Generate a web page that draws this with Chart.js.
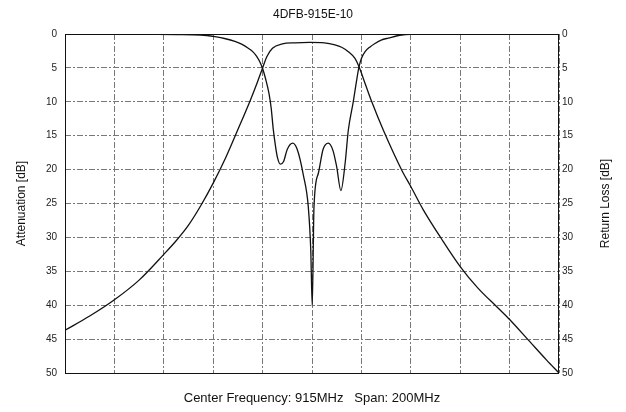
<!DOCTYPE html>
<html>
<head>
<meta charset="utf-8">
<script src="https://cdn.jsdelivr.net/npm/chart.js@4.4.1/dist/chart.umd.min.js"></script>
<style>
  body { margin: 0; background: #fff; }
  #wrap { width: 626px; height: 412px; }
</style>
</head>
<body>
<div id="wrap"><canvas id="filterChart" width="626" height="412"></canvas></div>
<script>
// frequency span 815..1015 MHz, 20 MHz per division
const freqTicks = [815, 835, 855, 875, 895, 915, 935, 955, 975, 995, 1015];
const dbTicks = [0, 5, 10, 15, 20, 25, 30, 35, 40, 45, 50];

// attenuation (insertion loss) curve
const attFreq = [815, 825, 835, 845, 855, 860, 865, 870, 875, 880, 885, 890, 893, 895,
  896.7, 899, 903, 908, 914, 920, 924.3, 927, 929.7, 932.4, 934, 936.5, 939.2, 943.9, 951.5,
  955, 960, 967.4, 975, 982, 990, 995, 1003, 1010, 1015];
const attDb = [43.7, 41.6, 39.2, 36.3, 32.5, 30.5, 28.2, 25.3, 22.0, 18.3, 14.1, 9.8, 7.0, 5.0,
  3.35, 2.1, 1.47, 1.3, 1.23, 1.3, 1.6, 1.95, 2.6, 3.6, 4.8, 7.3, 10, 14.2, 20.2,
  22.5, 25.9, 30.2, 34.3, 37.4, 40.3, 42.1, 45.3, 48.1, 50];

// return loss curve
const rlFreq = [815, 845, 860, 870, 875.7, 880, 883.8, 886.5, 889.2, 891, 892.6, 894, 895,
  896.2, 897.6, 898.5, 899.3, 900.2, 901, 902.2, 903.5, 905, 907.2, 909, 911.5, 913.5, 914.5,
  915.1, 915.8, 917.6, 919.5, 921.6, 923.5, 925, 926.7, 928.4, 929.7, 931.7, 933, 934, 935,
  936.5, 938.5, 940.5, 943, 945.9, 951.3, 960, 1015];
const rlDb = [0, 0.03, 0.08, 0.15, 0.4, 0.7, 1.1, 1.5, 2.1, 2.6, 3.3, 4.2, 5.1,
  6.6, 8.8, 11, 14, 16.5, 18.2, 19.2, 18.8, 17, 16.1, 17, 20.8, 25.5, 31.9,
  40.1, 25.5, 20.5, 17, 16.1, 17.2, 19.6, 23.1, 19.1, 14.2, 10, 7, 4.9, 3.6,
  2.6, 1.9, 1.4, 0.9, 0.6, 0.15, 0.03, 0];

const FONT = "'Liberation Sans', Arial, sans-serif";

const toPoints = (xs, ys) => xs.map((x, i) => ({ x: x, y: ys[i] }));

// frame around plot + right axis title (reads bottom to top like the left one)
const extras = {
  id: "extras",
  beforeDatasetsDraw(chart) {
    const { ctx, chartArea: a } = chart;
    ctx.save();
    ctx.strokeStyle = "#111";
    ctx.lineWidth = 1;
    ctx.strokeRect(a.left + 0.5, a.top + 0.5, a.right - a.left - 1, a.bottom - a.top);
    ctx.restore();
  },
  afterDraw(chart) {
    const { ctx, chartArea: a } = chart;
    ctx.save();
    ctx.translate(606, (a.top + a.bottom) / 2);
    ctx.rotate(-Math.PI / 2);
    ctx.font = "12px " + FONT;
    ctx.fillStyle = "#111";
    ctx.textAlign = "center";
    ctx.textBaseline = "middle";
    ctx.fillText("Return Loss [dB]", 0, 0);
    ctx.restore();
  }
};

const gridStyle = {
  color: "#777",
  lineWidth: 1,
  drawTicks: false
};

new Chart(document.getElementById("filterChart"), {
  type: "line",
  data: {
    datasets: [
      {
        label: "Attenuation",
        data: toPoints(attFreq, attDb),
        yAxisID: "y",
        borderColor: "#111",
        borderWidth: 1.3,
        pointRadius: 0,
        cubicInterpolationMode: "monotone"
      },
      {
        label: "Return Loss",
        data: toPoints(rlFreq, rlDb),
        yAxisID: "y2",
        borderColor: "#111",
        borderWidth: 1.3,
        pointRadius: 0,
        cubicInterpolationMode: "monotone"
      }
    ]
  },
  options: {
    responsive: false,
    animation: false,
    layout: { padding: 0 },
    plugins: {
      legend: { display: false },
      tooltip: { enabled: false },
      title: {
        display: true,
        text: "4DFB-915E-10",
        color: "#111",
        font: { family: FONT, size: 12, weight: "normal" },
        padding: { top: 7, bottom: 12.6 }
      }
    },
    scales: {
      x: {
        type: "linear",
        min: freqTicks[0],
        max: freqTicks[freqTicks.length - 1],
        afterBuildTicks: (s) => { s.ticks = freqTicks.map((v) => ({ value: v })); },
        ticks: { display: false },
        grid: Object.assign({}, gridStyle),
        border: { display: false, dash: [6, 2, 2, 2] },
        title: {
          display: true,
          text: "Center Frequency: 915MHz   Span: 200MHz",
          color: "#111",
          font: { family: FONT, size: 13 },
          padding: { top: 0, bottom: 6 }
        },
        afterFit: (s) => { s.height = 39; }
      },
      y: {
        position: "left",
        reverse: true,
        min: 0,
        max: 50,
        afterBuildTicks: (s) => { s.ticks = dbTicks.map((v) => ({ value: v })); },
        ticks: { color: "#222", padding: 8, font: { family: FONT, size: 10 } },
        grid: Object.assign({}, gridStyle),
        border: { display: false, dash: [6, 2, 2, 2] },
        title: {
          display: true,
          text: "Attenuation [dB]",
          color: "#111",
          font: { family: FONT, size: 12 },
          padding: { top: 14 }
        },
        afterFit: (s) => { s.width = 65; }
      },
      y2: {
        position: "right",
        reverse: true,
        min: 0,
        max: 50,
        afterBuildTicks: (s) => { s.ticks = dbTicks.map((v) => ({ value: v })); },
        ticks: { color: "#222", padding: 3, font: { family: FONT, size: 10 } },
        grid: { display: false, drawTicks: false },
        border: { display: false },
        afterFit: (s) => { s.width = 67; }
      }
    }
  },
  plugins: [extras]
});
</script>
</body>
</html>
